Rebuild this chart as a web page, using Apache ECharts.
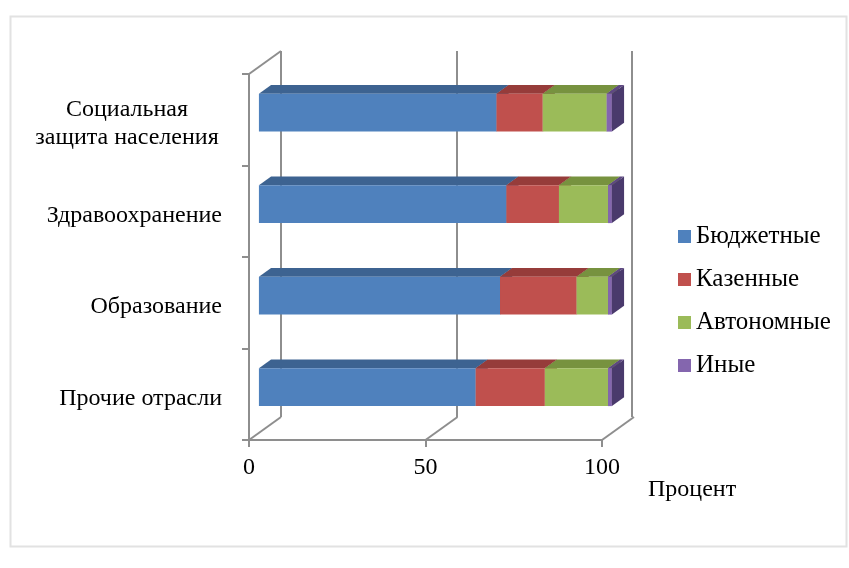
<!DOCTYPE html>
<html>
<head>
<meta charset="utf-8">
<script src="https://cdn.jsdelivr.net/npm/echarts@6/dist/echarts.min.js"></script>
<style>
  html, body { margin: 0; padding: 0; background: #fff; }
  #chart { width: 849px; height: 568px; }
</style>
</head>
<body>
<div id="chart"></div>
<script>
// данные (проценты)
var categories = ['Социальная\nзащита населения', 'Здравоохранение', 'Образование', 'Прочие отрасли'];
var seriesNames = ['Бюджетные', 'Казенные', 'Автономные', 'Иные'];
var budget = [67.3, 70.1, 68.3, 61.4];
var kazen = [13.1, 14.9, 21.7, 19.6];
var auton = [18.1, 13.9, 8.9, 17.9];
var other = [1.5, 1.1, 1.1, 1.1];
var xTicks = [0, 50, 100];

var seriesValues = [budget, kazen, auton, other];
// front / top / side colours
var palette = [
  ['#4F81BD', '#3D6391', '#34557D'],
  ['#C0504D', '#963C3A', '#803331'],
  ['#9BBB59', '#77923F', '#667D36'],
  ['#8466AE', '#5E4882', '#4A3A6C']
];

var DEPTH = [32, -23];   // full depth offset of the 3d box
var FRONT = 0.31, BACK = 0.69, BAR_RATIO = 0.415;
var GRID_LINE = '#8E8E8E';
var FONT = '"Liberation Serif", "Times New Roman", serif';

function makeRender(col) {
  return function (params, api) {
    var s = api.value(0), e = api.value(1), c = api.value(2);
    var a = api.coord([s, c]), b = api.coord([e, c]);
    var h = api.size([0, 1])[1] * BAR_RATIO;
    var fx = DEPTH[0] * FRONT, fy = DEPTH[1] * FRONT;
    var dx = DEPTH[0] * (BACK - FRONT), dy = DEPTH[1] * (BACK - FRONT);
    var x0 = a[0] + fx, x1 = b[0] + fx;
    var yT = a[1] + fy - h / 2, yB = yT + h;
    return {
      type: 'group',
      children: [
        { type: 'polygon', shape: { points: [[x1, yT], [x1 + dx, yT + dy], [x1 + dx, yB + dy], [x1, yB]] },
          style: { fill: col[2] } },
        { type: 'polygon', shape: { points: [[x0, yT], [x1, yT], [x1 + dx, yT + dy], [x0 + dx, yT + dy]] },
          style: { fill: col[1] } },
        { type: 'rect', shape: { x: x0, y: yT, width: x1 - x0, height: h },
          style: { fill: col[0] } }
      ]
    };
  };
}

function renderFloor(params, api) {
  var v = api.value(0);
  var cs = params.coordSys;
  var p = api.coord([v, 0]);
  var yb = cs.y + cs.height;
  var kids = [{
    type: 'line',
    shape: { x1: p[0], y1: yb, x2: p[0] + DEPTH[0], y2: yb + DEPTH[1] },
    style: { stroke: GRID_LINE, lineWidth: 2 }
  }];
  if (params.dataIndex === 0) {
    kids.push({
      type: 'line',
      shape: { x1: cs.x, y1: cs.y, x2: cs.x + DEPTH[0], y2: cs.y + DEPTH[1] },
      style: { stroke: GRID_LINE, lineWidth: 2 }
    });
  }
  return { type: 'group', children: kids };
}

var series = [];
seriesValues.forEach(function (vals, i) {
  var data = vals.map(function (v, j) {
    var start = 0;
    for (var k = 0; k < i; k++) start += seriesValues[k][j];
    return [start, start + v, j];
  });
  series.push({
    name: seriesNames[i],
    type: 'custom',
    xAxisIndex: 0, yAxisIndex: 0,
    clip: false,
    itemStyle: { color: palette[i][0] },
    renderItem: makeRender(palette[i]),
    encode: { x: [0, 1], y: 2 },
    data: data
  });
});
series.push({
  type: 'custom',
  xAxisIndex: 0, yAxisIndex: 0,
  clip: false,
  silent: true,
  renderItem: renderFloor,
  data: xTicks.map(function (v) { return [v]; })
});

var chart = echarts.init(document.getElementById('chart'));
chart.setOption({
  backgroundColor: '#fff',
  animation: false,
  grid: [
    { left: 249, right: 247, top: 74, bottom: 128 },
    { left: 281, right: 217, top: 51, bottom: 151 }
  ],
  legend: {
    data: seriesNames,
    orient: 'vertical',
    left: 673, top: 219,
    icon: 'rect',
    itemWidth: 13, itemHeight: 13, itemGap: 18,
    textStyle: { fontFamily: FONT, fontSize: 25, color: '#000', lineHeight: 25 }
  },
  xAxis: [
    {
      gridIndex: 0, type: 'value', min: 0, max: 100, interval: 50,
      axisLine: { show: true, lineStyle: { color: GRID_LINE, width: 2 } },
      axisTick: { show: true, length: 7, lineStyle: { color: GRID_LINE, width: 2 } },
      splitLine: { show: false },
      axisLabel: { fontFamily: FONT, fontSize: 24, color: '#000', margin: 16 }
    },
    {
      gridIndex: 1, type: 'value', min: 0, max: 100, interval: 50,
      axisLine: { show: false }, axisTick: { show: false }, axisLabel: { show: false },
      splitLine: { show: true, lineStyle: { color: GRID_LINE, width: 2 } }
    }
  ],
  yAxis: [
    {
      gridIndex: 0, type: 'category', inverse: true, data: categories,
      axisLine: { show: true, lineStyle: { color: GRID_LINE, width: 2 } },
      axisTick: { show: true, length: 7, lineStyle: { color: GRID_LINE, width: 2 } },
      axisLabel: {
        fontFamily: FONT, fontSize: 24, color: '#000', margin: 27, lineHeight: 28,
        padding: [8, 0, 0, 0],
        formatter: function (val) {
          if (val.indexOf('\n') < 0) return val;
          return val.split('\n').map(function (s) { return '{c|' + s + '}'; }).join('\n');
        },
        rich: { c: { width: 190, align: 'center', fontFamily: FONT, fontSize: 24, lineHeight: 28, color: '#000' } }
      }
    },
    { gridIndex: 1, type: 'value', show: false }
  ],
  graphic: [
    { type: 'rect', left: 8, top: 14, z: -1,
      shape: { width: 836, height: 530 },
      style: { fill: 'none', stroke: '#E2E2E2', lineWidth: 2 } },
    { type: 'text', left: 648, top: 478,
      style: { text: 'Процент', font: '24px ' + FONT, fill: '#000' } }
  ],
  series: series
});
</script>
</body>
</html>
